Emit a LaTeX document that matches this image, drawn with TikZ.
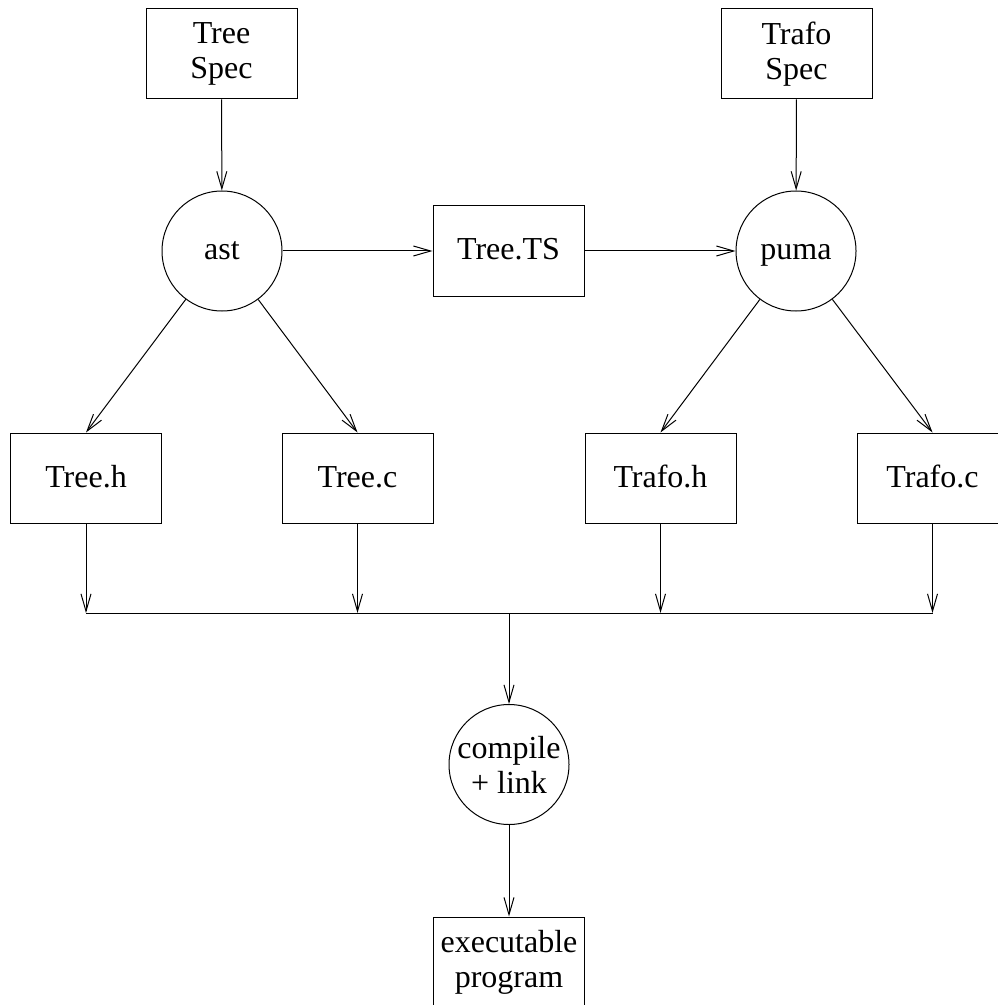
\documentclass[tikz,border=0pt]{standalone}
\usepackage{fontspec}
\setmainfont{Liberation Serif}
\usetikzlibrary{arrows.meta}

\begin{document}
\begin{tikzpicture}[
  x=0.75pt, y=-0.75pt,
  line width=0.75pt,
  >={Straight Barb[length=13pt,width=7.5pt]},
  file_box/.style={rectangle, draw, minimum width=113.25pt, minimum height=67.5pt, inner sep=0pt, align=center, font=\fontsize{24}{26.3}\selectfont},
  tool_node/.style={circle, draw, minimum size=90pt, inner sep=0pt, align=center, font=\fontsize{24}{26.3}\selectfont},
  one_line/.style={text height=16.5pt, text depth=3pt},
]
\useasboundingbox (0,0) rectangle (997,1005);
% sources
\node (treespec) [file_box] at (221.5,54) {Tree\\Spec};
\node (trafospec) [file_box] at (796.5,54) {Trafo\\Spec};
% generators
\node (ast) [tool_node, one_line] at (222,251) {ast};
\node (treets) [file_box, one_line] at (508.5,251) {Tree.TS};
\node (puma) [tool_node, one_line] at (796,251) {puma};
% generated files
\node (treeh) [file_box, one_line] at (86,478) {Tree.h};
\node (treec) [file_box, one_line] at (357.5,478) {Tree.c};
\node (trafoh) [file_box, one_line] at (660.5,478) {Trafo.h};
\node (trafoc) [file_box, one_line] at (932.5,478) {Trafo.c};
% build
\node (compile) [tool_node] at (509,764.5) {compile\\+ link};
\node (exec) [file_box] at (509,962) {executable\\program};
\coordinate (bus_th) at (86,613);
\coordinate (bus_tc) at (357.5,613);
\coordinate (bus_fh) at (660.5,613);
\coordinate (bus_fc) at (932.5,613);
\coordinate (bus_mid) at (509,613);

\draw[->] (treespec) -- (ast);
\draw[->] (trafospec) -- (puma);
\draw[->] (ast) -- (treets);
\draw[->] (treets) -- (puma);
\draw[->] (ast) -- (treeh.north);
\draw[->] (ast) -- (treec.north);
\draw[->] (puma) -- (trafoh.north);
\draw[->] (puma) -- (trafoc.north);
\foreach \f/\b in {treeh/bus_th, treec/bus_tc, trafoh/bus_fh, trafoc/bus_fc}
  \draw[->] (\f) -- (\b);
\draw (bus_th) -- (bus_fc);
\draw[->] (bus_mid) -- (compile);
\draw[->] (compile) -- (exec);
\end{tikzpicture}
\end{document}
